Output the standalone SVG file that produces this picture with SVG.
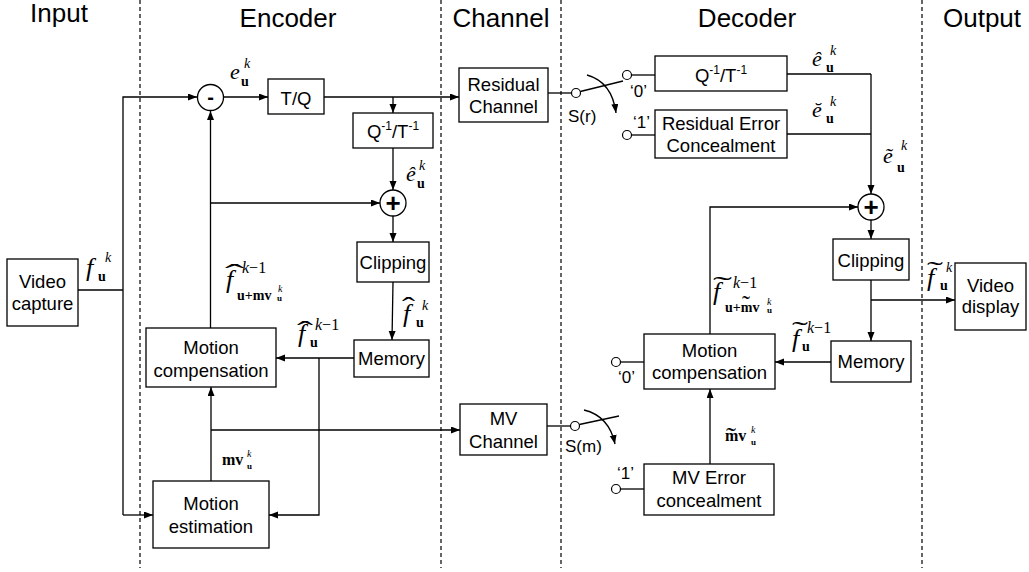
<svg xmlns="http://www.w3.org/2000/svg" width="1029" height="572" viewBox="0 0 1029 572">
<defs>
<marker id="ah" markerUnits="userSpaceOnUse" markerWidth="10" markerHeight="8" refX="9" refY="3.5" orient="auto"><path d="M0,0 L9,3.5 L0,7 z" fill="#000"/></marker>
<style>
.box{fill:#fff;stroke:#000;stroke-width:1.3}
.t{font-family:"Liberation Sans",Arial,sans-serif;font-size:18.5px;text-anchor:middle;fill:#000}
.h{font-family:"Liberation Sans",Arial,sans-serif;font-size:26px;text-anchor:middle;fill:#000}
.sw{font-family:"Liberation Sans",Arial,sans-serif;font-size:17px;fill:#000}
.ln{fill:none;stroke:#000;stroke-width:1.3}
.arr{marker-end:url(#ah)}
.dash{stroke:#000;stroke-width:1.2;stroke-dasharray:4 3}
.mi{font-family:"Liberation Serif","Times New Roman",serif;font-style:italic;font-size:22px}
.fi{font-family:"Liberation Serif","Times New Roman",serif;font-style:italic;font-size:26px}
.sp{font-family:"Liberation Serif","Times New Roman",serif;font-style:italic;font-size:14px}
.sp2{font-family:"Liberation Serif","Times New Roman",serif;font-size:16px}
.bs{font-family:"Liberation Serif","Times New Roman",serif;font-weight:bold;font-size:14px}
.bm{font-family:"Liberation Serif","Times New Roman",serif;font-weight:bold;font-size:16px}
.tk{font-family:"Liberation Serif","Times New Roman",serif;font-style:italic;font-size:10px}
.tu{font-family:"Liberation Serif","Times New Roman",serif;font-weight:bold;font-size:9px}
.acc{font-family:"Liberation Serif","Times New Roman",serif;font-size:26px}
.term{fill:#fff;stroke:#000;stroke-width:1.2}
</style>
</defs>
<rect width="1029" height="572" fill="#fff"/>

<g id="dividers">
<line class="dash" x1="140" y1="0" x2="140" y2="568"/>
<line class="dash" x1="441" y1="0" x2="441" y2="568"/>
<line class="dash" x1="561" y1="0" x2="561" y2="568"/>
<line class="dash" x1="922" y1="0" x2="922" y2="568"/>
</g>

<g id="headers">
<text class="h" x="59" y="22">Input</text>
<text class="h" x="288" y="27">Encoder</text>
<text class="h" x="501" y="27">Channel</text>
<text class="h" x="747" y="27">Decoder</text>
<text class="h" x="982" y="27">Output</text>
</g>

<g id="connectors">
<path class="ln arr" d="M123,515 V97 H197"/>
<path class="ln arr" d="M123,515 H153"/>
<path class="ln" d="M78,290 H123"/>
<path class="ln arr" d="M224,97 H268"/>
<path class="ln arr" d="M324,97 H459"/>
<path class="ln arr" d="M393,97 V113"/>
<path class="ln arr" d="M393,148 V190"/>
<path class="ln arr" d="M210.5,328 V111"/>
<path class="ln arr" d="M210.5,203 H380"/>
<path class="ln arr" d="M393,216 V242"/>
<path class="ln arr" d="M393,282 L392,340"/>
<path class="ln arr" d="M354,358 H276"/>
<path class="ln arr" d="M319,358 V515 H269"/>
<path class="ln arr" d="M211,481 V387"/>
<path class="ln arr" d="M211,430 H460"/>
<path class="ln" d="M548,93 H571.5"/>
<path class="ln" d="M580.3,91.5 L623,81"/>
<path class="ln arr" d="M587,75 Q612,82 616,113"/>
<path class="ln" d="M631.5,75 H655"/>
<path class="ln" d="M631.5,135 H655"/>
<path class="ln" d="M787,74 H871"/>
<path class="ln" d="M787,134 H871"/>
<path class="ln arr" d="M871,74 V194"/>
<path class="ln arr" d="M710,334 V207 H858"/>
<path class="ln arr" d="M871,220 V239"/>
<path class="ln arr" d="M871,280 V341"/>
<path class="ln arr" d="M871,300 H955"/>
<path class="ln arr" d="M831,362 H775"/>
<path class="ln" d="M547,426 H570.5"/>
<path class="ln" d="M579.3,424.5 L619,416"/>
<path class="ln arr" d="M584,410 Q609,416 615,444"/>
<path class="ln" d="M620.5,362 H644"/>
<path class="ln" d="M620.5,489 H644"/>
<path class="ln arr" d="M710,464 V389"/>
<circle class="term" cx="576" cy="93" r="4.5"/>
<circle class="term" cx="627" cy="75" r="4.5"/>
<circle class="term" cx="627" cy="135" r="4.5"/>
<circle class="term" cx="575" cy="426" r="4.5"/>
<circle class="term" cx="616" cy="362" r="4.5"/>
<circle class="term" cx="616" cy="489" r="4.5"/>
</g>

<g id="video-capture"><rect class="box" x="7" y="259" width="71" height="67"/><text class="t" x="42.5" y="288">Video</text><text class="t" x="42.5" y="310">capture</text></g>
<g id="subtract"><circle class="box" cx="210.5" cy="97.5" r="13"/><text x="210.5" y="104" text-anchor="middle" font-family="Liberation Sans, sans-serif" font-weight="bold" font-size="20">-</text></g>
<g id="tq"><rect class="box" x="268" y="79" width="56" height="35"/><text class="t" x="296" y="105" font-size="21">T/Q</text></g>
<g id="enc-iq"><rect class="box" x="353" y="113" width="80" height="35"/><text class="t" x="393" y="138">Q<tspan font-size="12" dy="-8">-1</tspan><tspan dy="8">/T</tspan><tspan font-size="12" dy="-8">-1</tspan></text></g>
<g id="enc-add"><circle class="box" cx="393" cy="203" r="13"/><text x="393" y="212" text-anchor="middle" font-family="Liberation Sans, sans-serif" font-weight="bold" font-size="26">+</text></g>
<g id="enc-clip"><rect class="box" x="357" y="242" width="72" height="40"/><text class="t" x="393" y="269">Clipping</text></g>
<g id="enc-mem"><rect class="box" x="354" y="340" width="75" height="37"/><text class="t" x="391.5" y="365">Memory</text></g>
<g id="enc-mc"><rect class="box" x="146" y="328" width="130" height="59"/><text class="t" x="211" y="354">Motion</text><text class="t" x="211" y="377">compensation</text></g>
<g id="enc-me"><rect class="box" x="153" y="481" width="116" height="67"/><text class="t" x="211" y="510">Motion</text><text class="t" x="211" y="533">estimation</text></g>
<g id="res-channel"><rect class="box" x="459" y="68" width="89" height="54"/><text class="t" x="503.5" y="91">Residual</text><text class="t" x="503.5" y="113">Channel</text></g>
<g id="mv-channel"><rect class="box" x="460" y="404" width="87" height="51"/><text class="t" x="503.5" y="425">MV</text><text class="t" x="503.5" y="448">Channel</text></g>
<g id="dec-iq"><rect class="box" x="655" y="56" width="132" height="35"/><text class="t" x="721" y="82">Q<tspan font-size="12" dy="-8">-1</tspan><tspan dy="8">/T</tspan><tspan font-size="12" dy="-8">-1</tspan></text></g>
<g id="dec-rec"><rect class="box" x="655" y="110" width="132" height="48"/><text class="t" x="721" y="130">Residual Error</text><text class="t" x="721" y="152">Concealment</text></g>
<g id="dec-add"><circle class="box" cx="871" cy="207" r="13"/><text x="871" y="216" text-anchor="middle" font-family="Liberation Sans, sans-serif" font-weight="bold" font-size="26">+</text></g>
<g id="dec-clip"><rect class="box" x="833" y="239" width="76" height="41"/><text class="t" x="871" y="267">Clipping</text></g>
<g id="dec-mem"><rect class="box" x="831" y="341" width="80" height="41"/><text class="t" x="871" y="368">Memory</text></g>
<g id="dec-mc"><rect class="box" x="644" y="334" width="131" height="55"/><text class="t" x="709.5" y="357">Motion</text><text class="t" x="709.5" y="379">compensation</text></g>
<g id="dec-mvec"><rect class="box" x="644" y="464" width="130" height="51"/><text class="t" x="709" y="484">MV Error</text><text class="t" x="709" y="507">concealment</text></g>
<g id="video-display"><rect class="box" x="955" y="263" width="71" height="67"/><text class="t" x="990.5" y="292">Video</text><text class="t" x="990.5" y="313">display</text></g>

<g id="switch-labels">
<text class="sw" x="568" y="122">S(r)</text>
<text class="sw" x="565" y="452">S(m)</text>
<text class="sw" x="630" y="97">‘0’</text>
<text class="sw" x="633" y="128">‘1’</text>
<text class="sw" x="618" y="383">‘0’</text>
<text class="sw" x="617" y="479">‘1’</text>
</g>

<g id="math-labels">
<text class="mi" x="230" y="79">e</text><text class="sp" x="244" y="68">k</text><text class="bs" x="241" y="86">u</text>
<text class="mi" x="406" y="181">ê</text><text class="sp" x="419" y="170">k</text><text class="bs" x="417" y="188">u</text>
<text class="mi" x="812" y="66">ê</text><text class="sp" x="830" y="55">k</text><text class="bs" x="826" y="72">u</text>
<text class="mi" x="812" y="117">ĕ</text><text class="sp" x="830" y="106">k</text><text class="bs" x="826" y="123">u</text>
<text class="mi" x="883" y="163" font-size="24">ẽ</text><text class="sp" x="901" y="150">k</text><text class="bs" x="897" y="172">u</text>

<text class="fi" x="86" y="276" font-size="24">f</text><text class="sp" x="105" y="262">k</text><text class="bs" x="98" y="281">u</text>

<text class="acc" x="225" y="282" textLength="19" lengthAdjust="spacingAndGlyphs">ˆ</text>
<text class="fi" x="226" y="288">f</text><text class="sp2" x="242" y="273"><tspan font-style="italic">k</tspan>−1</text>
<text class="bs" x="237" y="300">u+mv</text><text class="tk" x="278" y="292">k</text><text class="tu" x="277" y="301">u</text>

<text class="acc" x="297" y="339" textLength="16" lengthAdjust="spacingAndGlyphs">ˆ</text>
<text class="fi" x="298" y="342">f</text><text class="sp2" x="315" y="330"><tspan font-style="italic">k</tspan>−1</text><text class="bs" x="310" y="347">u</text>

<text class="acc" x="402" y="315" textLength="13" lengthAdjust="spacingAndGlyphs">ˆ</text>
<text class="fi" x="403" y="322">f</text><text class="sp" x="422" y="310">k</text><text class="bs" x="416" y="327">u</text>

<text class="acc" x="713" y="294" textLength="19" lengthAdjust="spacingAndGlyphs">˜</text>
<text class="fi" x="713" y="300">f</text><text class="sp2" x="733" y="288"><tspan font-style="italic">k</tspan>−1</text>
<text class="bs" x="725" y="312">u+mv</text><text class="acc" x="742" y="313" font-size="12" textLength="8" lengthAdjust="spacingAndGlyphs">˜</text>
<text class="tk" x="767" y="305">k</text><text class="tu" x="767" y="313">u</text>

<text class="acc" x="792" y="339" textLength="16" lengthAdjust="spacingAndGlyphs">˜</text>
<text class="fi" x="792" y="347">f</text><text class="sp2" x="807" y="333"><tspan font-style="italic">k</tspan>−1</text><text class="bs" x="802" y="351">u</text>

<text class="acc" x="927" y="279" textLength="16" lengthAdjust="spacingAndGlyphs">˜</text>
<text class="fi" x="927" y="286">f</text><text class="sp" x="946" y="272">k</text><text class="bs" x="940" y="290">u</text>

<text class="bm" x="222" y="465">mv</text><text class="tk" x="247" y="457">k</text><text class="tu" x="247" y="469">u</text>

<text class="acc" x="726" y="445" font-size="14" textLength="10" lengthAdjust="spacingAndGlyphs">˜</text>
<text class="bm" x="725" y="441">mv</text><text class="tk" x="751" y="433">k</text><text class="tu" x="751" y="445">u</text>
</g>
</svg>
